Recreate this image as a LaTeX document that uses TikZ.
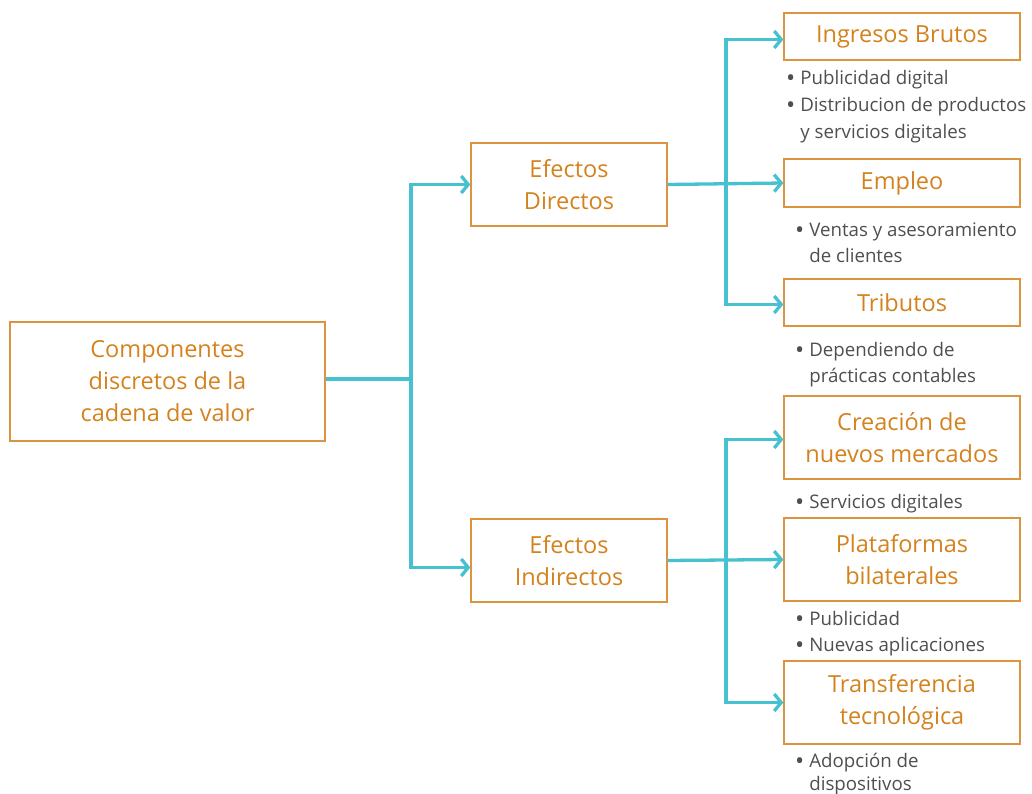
\documentclass[tikz,border=0pt]{standalone}
\usepackage{fontspec}
\setmainfont{Open Sans}
\usetikzlibrary{arrows.meta,calc}
\definecolor{cyanl}{HTML}{47C1D1}
\definecolor{orgt}{HTML}{D4821D}
\definecolor{orgb}{HTML}{DC9440}
\definecolor{grayt}{HTML}{4F4F4F}
\tikzset{
  box/.style={draw=orgb,line width=1.3pt,text=orgt,align=center,inner sep=0pt,
    font=\fontsize{23.5}{32}\selectfont},
  conn/.style={draw=cyanl,line width=3.3pt},
  arr/.style={conn,-{Straight Barb[length=7pt,width=17pt]}},
  blist/.style={anchor=north west,align=left,text=grayt,inner sep=0pt,
    font=\fontsize{18.7}{26}\selectfont}
}
\newcommand{\bul}{\raisebox{-1.6pt}{\scalebox{1.3}{•}}\hspace{5pt}}
\newcommand{\nbul}{\hphantom{\scalebox{1.3}{•}\hspace{5pt}}}
\begin{document}
\begin{tikzpicture}[x=1pt,y=-1pt]
\useasboundingbox (0,0) rectangle (1032,794);
% boxes
\node[box,minimum width=315pt,minimum height=119pt] (main) at (167.5,381.5) {Componentes\\discretos de la\\cadena de valor};
\node[box,minimum width=196pt,minimum height=83pt] (ED) at (569,184.5) {Efectos\\Directos};
\node[box,minimum width=196pt,minimum height=83pt] (EI) at (569,560.5) {Efectos\\Indirectos};
\node[box,minimum width=236pt,minimum height=47pt] (IB) at (902,36.5) {Ingresos Brutos};
\node[box,minimum width=236pt,minimum height=48pt] (EM) at (902,183) {Empleo};
\node[box,minimum width=236pt,minimum height=47pt] (TR) at (902,302.5) {Tributos};
\node[box,minimum width=236pt,minimum height=83pt] (CR) at (902,437.5) {Creación de\\nuevos mercados};
\node[box,minimum width=236pt,minimum height=83pt] (PL) at (902,559.5) {Plataformas\\bilaterales};
\node[box,minimum width=236pt,minimum height=83pt] (TT) at (902,702.5) {Transferencia\\tecnológica};
% bullet lists
\node[blist,font=\fontsize{18.7}{27}\selectfont] (bIB) at (786,70) {\bul Publicidad digital\\\bul Distribucion de productos\\\nbul y servicios digitales};
\node[blist] (bEM) at (795,223) {\bul Ventas y asesoramiento\\\nbul de clientes};
\node[blist] (bTR) at (795,342) {\bul Dependiendo de\\\nbul prácticas contables};
\node[blist] (bCR) at (795,494) {\bul Servicios digitales};
\node[blist] (bPL) at (795,611) {\bul Publicidad\\\bul Nuevas aplicaciones};
\node[blist,font=\fontsize{18.7}{23}\selectfont] (bTT) at (795,753) {\bul Adopción de\\\nbul dispositivos};
% junctions
\coordinate (j1) at (411,379);
\coordinate (j2) at (726,184);
\coordinate (j3) at (726,561);
% connectors
\draw[conn] (main.east|-j1) -- (j1);
\draw[arr] (j1) |- (ED.west);
\draw[arr] (j1) |- ([yshift=-7pt]EI.west);
\draw[arr] (ED.east) -- (EM.west);
\draw[arr] (j2) |- ([yshift=-3pt]IB.west);
\draw[arr] (j2) |- ([yshift=-2pt]TR.west);
\draw[arr] (EI.east) -- (PL.west);
\draw[arr] (j3) |- ([yshift=-2pt]CR.west);
\draw[arr] (j3) |- (TT.west);
\end{tikzpicture}
\end{document}
